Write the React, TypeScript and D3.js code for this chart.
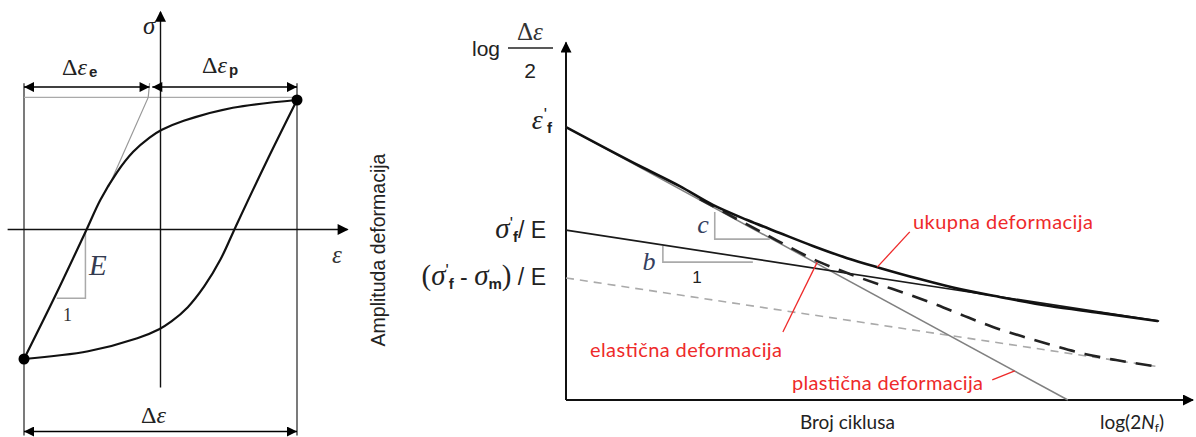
import React from "react";
import * as d3 from "d3";

// ---- left: hysteresis loop (strain, stress), normalised to the peak ----
const upperBranch: [number, number][] = [
  [-1, -1], [-0.77, -0.51], [-0.55, -0.02], [-0.44, 0.23], [-0.32, 0.44], [-0.2, 0.6],
  [-0.08, 0.71], [0.01, 0.77], [0.17, 0.84], [0.53, 0.94], [1, 1],
];
const lowerBranch: [number, number][] = [
  [1, 1], [0.77, 0.51], [0.55, 0.02], [0.44, -0.23], [0.32, -0.44], [0.2, -0.6],
  [0.08, -0.71], [-0.01, -0.77], [-0.17, -0.84], [-0.53, -0.94], [-1, -1],
];
const peakPoints: [number, number][] = [[1, 1], [-1, -1]];
const elasticGuide: [number, number][] = [[-0.08, 1.13], [-0.09, 1.02], [-0.38, 0.33]];
const slopeE: [number, number][] = [[-0.55, -0.02], [-0.55, -0.53], [-0.76, -0.53]];

// ---- right: strain-life curve (log 2Nf, log strain amplitude), arbitrary units ----
const plasticLine: [number, number][] = [[0, 7.58], [8.03, 0]];
const elasticLine: [number, number][] = [[0, 4.72], [9.49, 2.19]];
const meanStressLine: [number, number][] = [[0, 3.39], [9.49, 0.92]];
const totalCurve: [number, number][] = [
  [0, 7.58], [1.18, 6.5], [1.82, 5.94], [2.35, 5.42], [2.9, 5.0], [3.42, 4.64], [3.95, 4.28],
  [4.5, 3.94], [5.02, 3.67], [5.66, 3.36], [6.3, 3.08], [6.94, 2.86], [7.74, 2.61],
  [8.54, 2.42], [9.47, 2.19],
];
const totalMeanCurve: [number, number][] = [
  [2.14, 5.58], [3.1, 4.69], [4.06, 3.83], [4.54, 3.5], [4.99, 3.22], [5.47, 2.94],
  [5.94, 2.64], [6.38, 2.33], [6.83, 2.03], [7.33, 1.75], [7.82, 1.5], [8.3, 1.28],
  [8.8, 1.11], [9.49, 0.92],
];
const slopeC: [number, number][] = [[2.38, 5.22], [2.38, 4.47], [3.26, 4.47]];
const slopeB: [number, number][] = [[1.55, 4.28], [1.55, 3.83], [2.99, 3.83]];
const leaders: [number, number][][] = [
  [[5.5, 4.67], [4.98, 3.69]],
  [[4.02, 3.83], [3.47, 1.89]],
  [[6.82, 0.56], [7.18, 0.81]],
];

const RED = "#ee2a2a";
const SERIF = "'Liberation Serif', 'DejaVu Serif', serif";
const SANS = "'Liberation Sans', Arial, sans-serif";
const LABEL = "Lato, 'Open Sans', sans-serif";

export default function App() {
  const xL = d3.scaleLinear().domain([-1, 1]).range([24, 297]);
  const yL = d3.scaleLinear().domain([-1, 1]).range([359, 100]);
  const xR = d3.scaleLinear().domain([0, 10]).range([566, 1191]);
  const yR = d3.scaleLinear().domain([0, 10]).range([400, 40]);

  const lineL = d3.line<[number, number]>().x((d) => xL(d[0])).y((d) => yL(d[1]));
  const loopL = d3
    .line<[number, number]>()
    .x((d) => xL(d[0]))
    .y((d) => yL(d[1]))
    .curve(d3.curveCatmullRom.alpha(0.5));
  const lineR = d3.line<[number, number]>().x((d) => xR(d[0])).y((d) => yR(d[1]));
  const curveR = d3
    .line<[number, number]>()
    .x((d) => xR(d[0]))
    .y((d) => yR(d[1]))
    .curve(d3.curveMonotoneX);

  return (
    <svg
      width={1196}
      height={437}
      style={{ position: "absolute", left: 0, top: 0, background: "#fff" }}
    >
      <defs>
        <marker id="ah" viewBox="0 0 10 10" refX={10} refY={5} markerWidth={13} markerHeight={10}
          markerUnits="userSpaceOnUse" orient="auto-start-reverse">
          <path d="M0,0 L10,5 L0,10 z" fill="#000" />
        </marker>
        <marker id="ax" viewBox="0 0 10 10" refX={9} refY={5} markerWidth={14} markerHeight={11}
          markerUnits="userSpaceOnUse" orient="auto">
          <path d="M0,0 L10,5 L0,10 z" fill="#000" />
        </marker>
      </defs>

      {/* ===== left chart ===== */}
      <g fill="none">
        <path d={lineL([[-1, -1.59], [-1, 1.13]])!} stroke="#222" strokeWidth={1.2} />
        <path d={lineL([[1, -1.59], [1, 1.13]])!} stroke="#222" strokeWidth={1.2} />
        <path d={lineL([[-1, 1.02], [1, 1.02]])!} stroke="#aaa" strokeWidth={1.3} />
        <path d={lineL(elasticGuide)!} stroke="#999" strokeWidth={1.2} />
        <path d={lineL(slopeE)!} stroke="#aaa" strokeWidth={1.5} />
        <path d={lineL([[0, -1.22], [0, 1.68]])!} stroke="#111" strokeWidth={1.4} markerEnd="url(#ax)" />
        <path d={lineL([[-1.12, 0], [1.37, 0]])!} stroke="#111" strokeWidth={1.4} markerEnd="url(#ax)" />
        <path d={lineL([[-1, 1.1], [-0.08, 1.1]])!} stroke="#000" strokeWidth={1.6}
          markerStart="url(#ah)" markerEnd="url(#ah)" />
        <path d={lineL([[-0.06, 1.1], [1, 1.1]])!} stroke="#000" strokeWidth={1.6}
          markerStart="url(#ah)" markerEnd="url(#ah)" />
        <path d={lineL([[-1, -1.56], [1, -1.56]])!} stroke="#000" strokeWidth={1.6}
          markerStart="url(#ah)" markerEnd="url(#ah)" />
        <path d={loopL(upperBranch)!} stroke="#111" strokeWidth={2.2} />
        <path d={loopL(lowerBranch)!} stroke="#111" strokeWidth={2.2} />
      </g>
      {peakPoints.map((d, i) => (
        <circle key={i} cx={xL(d[0])} cy={yL(d[1])} r={5.5} fill="#000" />
      ))}
      <text x={143} y={34} fontFamily={SERIF} fontStyle="italic" fontSize={25} fill="#222">σ</text>
      <text x={332} y={263} fontFamily={SERIF} fontStyle="italic" fontSize={25} fill="#333">ε</text>
      <text x={62} y={75} fontFamily={SERIF} fontSize={24} fill="#222">
        Δ<tspan fontStyle="italic">ε</tspan>
        <tspan fontFamily={SANS} fontWeight="bold" fontSize={15} dx={2} dy={2}>e</tspan>
      </text>
      <text x={202} y={73} fontFamily={SERIF} fontSize={24} fill="#222">
        Δ<tspan fontStyle="italic">ε</tspan>
        <tspan fontFamily={SANS} fontWeight="bold" fontSize={15} dx={2} dy={2}>p</tspan>
      </text>
      <text x={141} y={423} fontFamily={SERIF} fontSize={24} fill="#222">
        Δ<tspan fontStyle="italic">ε</tspan>
      </text>
      <text x={89} y={275} fontFamily={SERIF} fontStyle="italic" fontSize={29} fill="#343b50">E</text>
      <text x={63} y={321} fontFamily={SERIF} fontSize={18} fill="#333">1</text>

      {/* ===== right chart ===== */}
      <g fill="none">
        <path d={lineR([[0, 0], [0, 9.93]])!} stroke="#111" strokeWidth={2} markerEnd="url(#ax)" />
        <path d={lineR([[0, 0], [10.03, 0]])!} stroke="#111" strokeWidth={2} markerEnd="url(#ax)" />
        <path d={lineR(slopeC)!} stroke="#aaa" strokeWidth={1.6} />
        <path d={lineR(slopeB)!} stroke="#aaa" strokeWidth={1.6} />
        <path d={lineR(meanStressLine)!} stroke="#aaa" strokeWidth={1.6} strokeDasharray="8,6" />
        <path d={lineR(plasticLine)!} stroke="#808080" strokeWidth={1.5} />
        <path d={lineR(elasticLine)!} stroke="#1a1a1a" strokeWidth={1.7} />
        <path d={curveR(totalMeanCurve)!} stroke="#222" strokeWidth={2.6} strokeDasharray="16,10" />
        <path d={curveR(totalCurve)!} stroke="#111" strokeWidth={2.6} />
        {leaders.map((l, i) => (
          <path key={i} d={lineR(l)!} stroke={RED} strokeWidth={1.3} />
        ))}
      </g>

      {/* y axis title */}
      <text x={472} y={56} fontFamily={SANS} fontSize={21} fill="#222">log</text>
      <path d="M508,48 L553,48" stroke="#222" strokeWidth={1.5} />
      <text x={530} y={40} textAnchor="middle" fontFamily={SERIF} fontSize={25} fill="#333">
        Δ<tspan fontStyle="italic">ε</tspan>
      </text>
      <text x={530} y={78} textAnchor="middle" fontFamily={SANS} fontSize={21} fill="#222">2</text>

      <text x={552} y={129} textAnchor="end" fill="#222">
        <tspan fontFamily={SERIF} fontStyle="italic" fontSize={28}>ε</tspan>
        <tspan fontFamily={SANS} fontSize={17} dx={1} dy={-9}>'</tspan>
        <tspan fontFamily={SANS} fontWeight="bold" fontSize={15} dy={13}>f</tspan>
      </text>
      <text x={546} y={238} textAnchor="end" fill="#222">
        <tspan fontFamily={SERIF} fontStyle="italic" fontSize={29}>σ</tspan>
        <tspan fontFamily={SANS} fontSize={17} dy={-9}>'</tspan>
        <tspan fontFamily={SANS} fontWeight="bold" fontSize={15} dy={13}>f</tspan>
        <tspan fontFamily={SANS} fontSize={23} dy={-4}>/ E</tspan>
      </text>
      <text x={546} y={285} textAnchor="end" fill="#222">
        <tspan fontFamily={SERIF} fontSize={29}>(</tspan>
        <tspan fontFamily={SERIF} fontStyle="italic" fontSize={29}>σ</tspan>
        <tspan fontFamily={SANS} fontSize={17} dy={-9}>'</tspan>
        <tspan fontFamily={SANS} fontWeight="bold" fontSize={15} dy={13}>f</tspan>
        <tspan fontFamily={SANS} fontSize={23} dy={-4}> - </tspan>
        <tspan fontFamily={SERIF} fontStyle="italic" fontSize={29}>σ</tspan>
        <tspan fontFamily={SANS} fontWeight="bold" fontSize={15} dy={4}>m</tspan>
        <tspan fontFamily={SERIF} fontSize={29} dy={-4}>)</tspan>
        <tspan fontFamily={SANS} fontSize={23}> / E</tspan>
      </text>

      <text transform="translate(385,250) rotate(-90)" textAnchor="middle" fontFamily={SANS}
        fontSize={19.5} fill="#222">Amplituda deformacija</text>

      <text x={703} y={233} textAnchor="middle" fontFamily={SERIF} fontStyle="italic" fontSize={26}
        fill="#34405e">c</text>
      <text x={649} y={270} textAnchor="middle" fontFamily={SERIF} fontStyle="italic" fontSize={26}
        fill="#34405e">b</text>
      <text x={697} y={283} textAnchor="middle" fontFamily={SANS} fontSize={17} fill="#222">1</text>

      <text x={913} y={229} fontFamily={LABEL} fontSize={20} fill={RED} textLength={180}>ukupna deformacija</text>
      <text x={590} y={357} fontFamily={LABEL} fontSize={20} fill={RED} textLength={192}>elastična deformacija</text>
      <text x={792} y={390} fontFamily={LABEL} fontSize={20} fill={RED} textLength={191}>plastična deformacija</text>

      <text x={800} y={429} fontFamily={LABEL} fontSize={19} fill="#222">Broj ciklusa</text>
      <text x={1100} y={429} fontFamily={LABEL} fontSize={19} fill="#222">
        log(2<tspan fontStyle="italic">N</tspan>
        <tspan fontSize={12} dy={3}>f</tspan>
        <tspan dy={-3}>)</tspan>
      </text>
    </svg>
  );
}
